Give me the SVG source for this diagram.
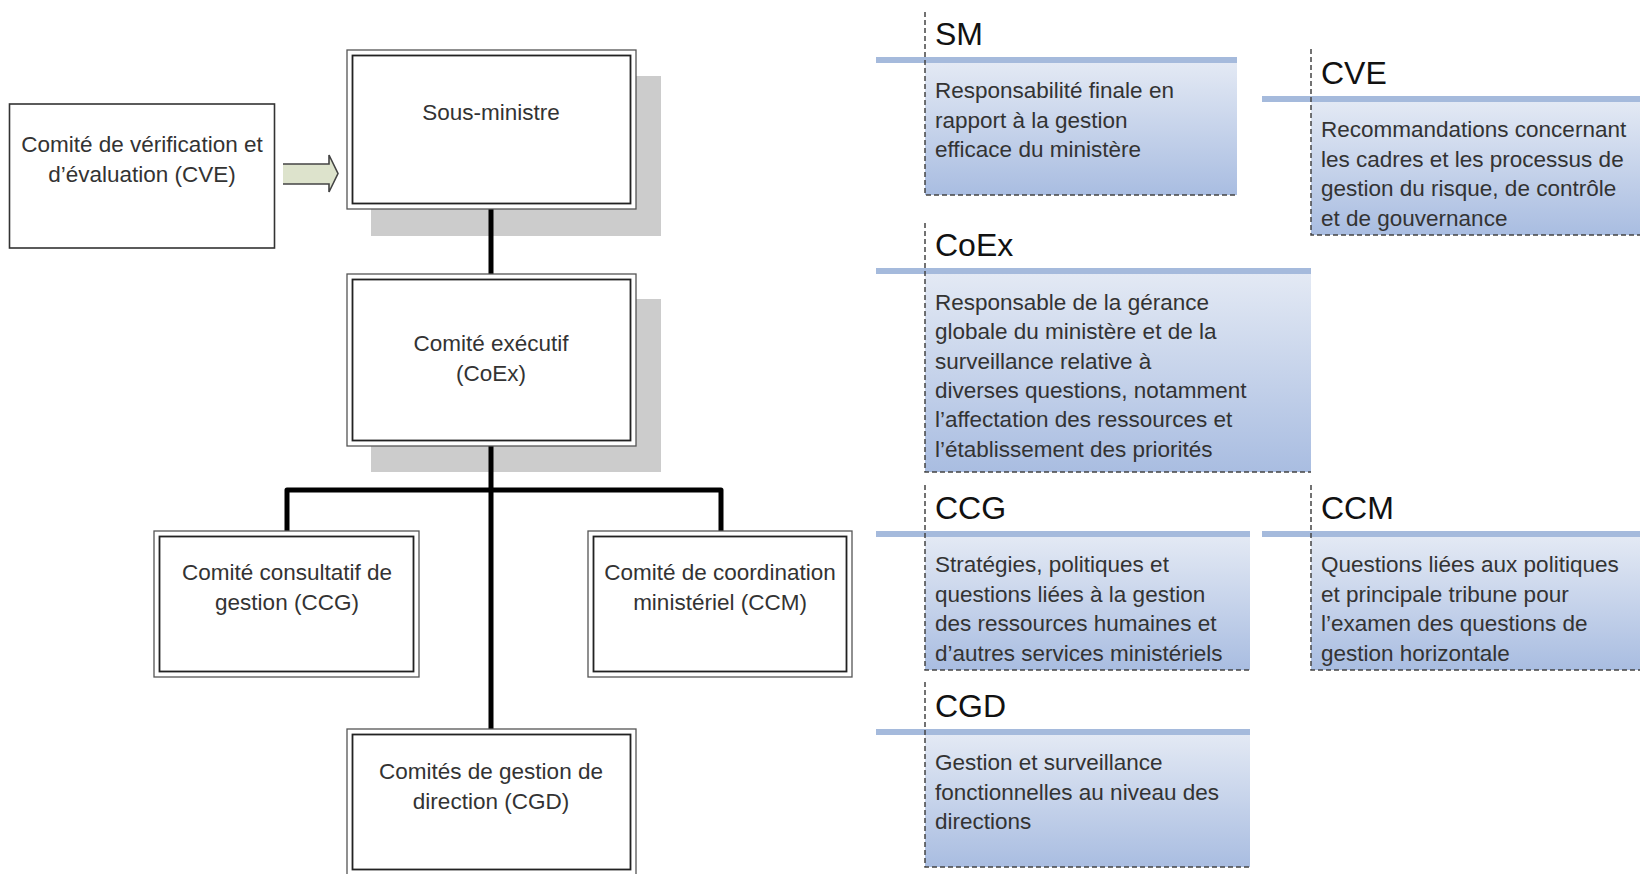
<svg xmlns="http://www.w3.org/2000/svg" width="1640" height="874" viewBox="0 0 1640 874">
<defs>
<linearGradient id="pg" x1="0" y1="0" x2="0" y2="1">
<stop offset="0" stop-color="#e3e9f4"/>
<stop offset="1" stop-color="#a9bde1"/>
</linearGradient>
<style>
.t{font-family:"Liberation Sans",Arial,sans-serif;font-size:22.5px;fill:#333;}
.c{text-anchor:middle;}
.h{font-family:"Liberation Sans",Arial,sans-serif;font-size:32px;fill:#111;}
.o{fill:#fff;stroke:#555;stroke-width:1.3;}
.i{fill:none;stroke:#222;stroke-width:1.8;}
.sh{fill:#cccccc;}
.bar{fill:#a5badc;}
.pf{fill:url(#pg);}
.d{fill:none;stroke:#444;stroke-width:1.5;stroke-dasharray:5 3;}
.con{fill:none;stroke:#000;stroke-width:5;stroke-linejoin:round;}
</style>
</defs>
<rect width="1640" height="874" fill="#fff"/>

<!-- shadows -->
<rect class="sh" x="371" y="76" width="290" height="160"/>
<rect class="sh" x="371" y="299" width="290" height="173"/>

<g id="connectors">
<line class="con" x1="491" y1="209" x2="491" y2="274"/>
<line class="con" x1="491" y1="446" x2="491" y2="729"/>
<polyline class="con" points="287,531 287,490 721,490 721,531"/>
<path d="M283,164 H329 V155 L338,173.5 L329,192 V184 H283 Z" fill="#dde3cc"/>
<path d="M283,164 H329 V155 L338,173.5 L329,192 V184 H283" fill="none" stroke="#444" stroke-width="1.6"/>
</g>

<g id="node-cve">
<rect x="9.5" y="104" width="265" height="144" fill="#fff" stroke="#333" stroke-width="1.6"/>
<text class="t c" x="142" y="152">Comité de vérification et</text>
<text class="t c" x="142" y="182">d’évaluation (CVE)</text>
</g>

<g id="node-sm">
<rect class="o" x="347" y="50" width="289" height="159"/>
<rect class="i" x="352.5" y="55.5" width="278" height="148"/>
<text class="t c" x="491" y="120">Sous-ministre</text>
</g>

<g id="node-coex">
<rect class="o" x="347" y="274" width="289" height="172"/>
<rect class="i" x="352.5" y="279.5" width="278" height="161"/>
<text class="t c" x="491" y="351">Comité exécutif</text>
<text class="t c" x="491" y="381">(CoEx)</text>
</g>

<g id="node-ccg">
<rect class="o" x="154" y="531" width="265" height="146"/>
<rect class="i" x="159.5" y="536.5" width="254" height="135"/>
<text class="t c" x="287" y="580">Comité consultatif de</text>
<text class="t c" x="287" y="610">gestion (CCG)</text>
</g>

<g id="node-ccm">
<rect class="o" x="588" y="531" width="264" height="146"/>
<rect class="i" x="593.5" y="536.5" width="253" height="135"/>
<text class="t c" x="720" y="580">Comité de coordination</text>
<text class="t c" x="720" y="610">ministériel (CCM)</text>
</g>

<g id="node-cgd">
<rect class="o" x="347" y="729" width="289" height="147"/>
<rect class="i" x="352.5" y="734.5" width="278" height="135"/>
<text class="t c" x="491" y="779">Comités de gestion de</text>
<text class="t c" x="491" y="809">direction (CGD)</text>
</g>

<!-- description panels -->
<g id="panel-sm">
<rect class="pf" x="925" y="63" width="312" height="132"/>
<rect class="bar" x="876" y="57" width="361" height="6"/>
<path class="d" d="M925,12 V195 H1237"/>
<text class="h" x="935" y="45">SM</text>
<text class="t" x="935" y="98">Responsabilité finale en</text>
<text class="t" x="935" y="127.5">rapport à la gestion</text>
<text class="t" x="935" y="157">efficace du ministère</text>
</g>

<g id="panel-cve">
<rect class="pf" x="1311" y="102" width="329" height="133"/>
<rect class="bar" x="1262" y="96" width="378" height="6"/>
<path class="d" d="M1311,49 V235 H1640"/>
<text class="h" x="1321" y="84">CVE</text>
<text class="t" x="1321" y="137">Recommandations concernant</text>
<text class="t" x="1321" y="166.5">les cadres et les processus de</text>
<text class="t" x="1321" y="196">gestion du risque, de contrôle</text>
<text class="t" x="1321" y="225.5">et de gouvernance</text>
</g>

<g id="panel-coex">
<rect class="pf" x="925" y="274" width="386" height="198"/>
<rect class="bar" x="876" y="268" width="435" height="6"/>
<path class="d" d="M925,223 V472 H1311"/>
<text class="h" x="935" y="256">CoEx</text>
<text class="t" x="935" y="310">Responsable de la gérance</text>
<text class="t" x="935" y="339.3">globale du ministère et de la</text>
<text class="t" x="935" y="368.6">surveillance relative à</text>
<text class="t" x="935" y="397.9">diverses questions, notamment</text>
<text class="t" x="935" y="427.2">l’affectation des ressources et</text>
<text class="t" x="935" y="456.5">l’établissement des priorités</text>
</g>

<g id="panel-ccg">
<rect class="pf" x="925" y="537" width="325" height="133"/>
<rect class="bar" x="876" y="531" width="374" height="6"/>
<path class="d" d="M925,485 V670 H1250"/>
<text class="h" x="935" y="519">CCG</text>
<text class="t" x="935" y="572">Stratégies, politiques et</text>
<text class="t" x="935" y="601.5">questions liées à la gestion</text>
<text class="t" x="935" y="631">des ressources humaines et</text>
<text class="t" x="935" y="660.5">d’autres services ministériels</text>
</g>

<g id="panel-ccm">
<rect class="pf" x="1311" y="537" width="329" height="133"/>
<rect class="bar" x="1262" y="531" width="378" height="6"/>
<path class="d" d="M1311,485 V670 H1640"/>
<text class="h" x="1321" y="519">CCM</text>
<text class="t" x="1321" y="572">Questions liées aux politiques</text>
<text class="t" x="1321" y="601.5">et principale tribune pour</text>
<text class="t" x="1321" y="631">l’examen des questions de</text>
<text class="t" x="1321" y="660.5">gestion horizontale</text>
</g>

<g id="panel-cgd">
<rect class="pf" x="925" y="735" width="325" height="132"/>
<rect class="bar" x="876" y="729" width="374" height="6"/>
<path class="d" d="M925,682 V867 H1250"/>
<text class="h" x="935" y="717">CGD</text>
<text class="t" x="935" y="770">Gestion et surveillance</text>
<text class="t" x="935" y="799.5">fonctionnelles au niveau des</text>
<text class="t" x="935" y="829">directions</text>
</g>
</svg>
